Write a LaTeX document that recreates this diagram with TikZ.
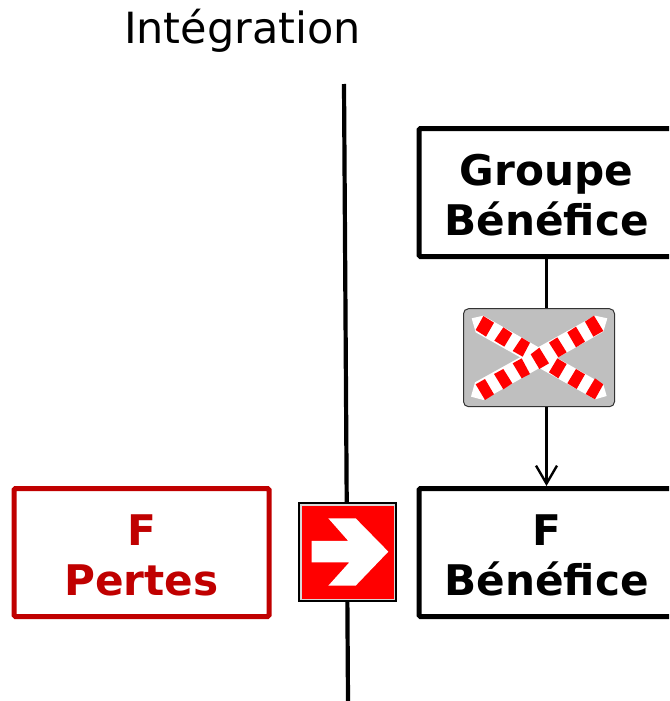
\documentclass[tikz,border=0pt]{standalone}
\usepackage{fontspec}
\setmainfont{DejaVu Sans}
\usetikzlibrary{arrows.meta}
\definecolor{dred}{HTML}{C00000}
\definecolor{sred}{HTML}{FF0000}
\definecolor{sgray}{HTML}{BFBFBF}
\newcommand{\toplift}{\rule{0pt}{37pt}}
\tikzset{
 flowbox/.style={draw=black,line width=5pt,fill=white,rounded corners=1.5pt,minimum width=255pt,minimum height=128pt,inner sep=0pt,align=center,font=\fontsize{42.2}{50}\selectfont\bfseries,text=black},
 lossbox/.style={flowbox,draw=dred,text=dred},
 link/.style={draw=black,line width=2.6pt},
 axis/.style={draw=black,line width=4.2pt},
 band/.style={fill=white},
 stripe/.style={fill=sred},
}
\begin{document}
\begin{tikzpicture}[x=1pt,y=-1pt]
\useasboundingbox (0,0) rectangle (669,701);
\clip (0,0) rectangle (669,701);
\node[font=\fontsize{43}{50}\selectfont] (title) at (242.5,31) {Intégration};
\coordinate (axtop) at (344,84);
\coordinate (axbot) at (348,701);
\draw[axis] (axtop) -- (axbot);
\node[flowbox] (grp) at (546.5,192.5) {\toplift Groupe\\Bénéfice};
\node[flowbox] (fben) at (546.5,552.5) {\toplift F\\Bénéfice};
\node[lossbox] (fpert) at (141.5,552.5) {\toplift F\\Pertes};
\node[draw=black!80,line width=1pt,fill=sgray,rounded corners=5pt,minimum width=151pt,minimum height=98pt,inner sep=0pt] (cross) at (539,357.7) {};
\draw[link] (grp.south) -- (grp.south |- cross.north);
\draw[link,-{Straight Barb[length=18pt,width=21pt,line width=2.4pt]}] (cross.south -| fben.north) -- (fben.north);
\begin{scope}[shift={(450,295)},x=0.3333pt,y=-0.3333pt]
 \fill[band] (63,305) -- (75,262) -- (435,62) -- (472,70) -- (460,110) -- (100,315) -- cycle;
 \fill[stripe] (432,62) -- (460,108) -- (430,125) -- (405,80) -- cycle;
 \fill[stripe] (378,95) -- (405,140) -- (378,157) -- (352,112) -- cycle;
 \fill[stripe] (322,127) -- (350,172) -- (325,187) -- (297,143) -- cycle;
 \fill[stripe] (215,190) -- (240,237) -- (215,250) -- (188,205) -- cycle;
 \fill[stripe] (160,222) -- (187,265) -- (160,283) -- (132,237) -- cycle;
 \fill[stripe] (105,252) -- (132,298) -- (105,315) -- (77,268) -- cycle;
 \fill[band] (65,70) -- (100,62) -- (460,268) -- (470,303) -- (435,313) -- (77,112) -- cycle;
 \fill[stripe] (100,63) -- (132,83) -- (108,125) -- (77,105) -- cycle;
 \fill[stripe] (160,97) -- (187,115) -- (163,155) -- (133,137) -- cycle;
 \fill[stripe] (215,128) -- (240,143) -- (218,185) -- (188,168) -- cycle;
 \fill[stripe] (268,158) -- (297,205) -- (268,222) -- (242,178) -- cycle;
 \fill[stripe] (322,190) -- (350,207) -- (325,250) -- (297,232) -- cycle;
 \fill[stripe] (378,222) -- (405,238) -- (380,282) -- (352,265) -- cycle;
 \fill[stripe] (435,250) -- (460,268) -- (435,313) -- (407,297) -- cycle;
\end{scope}
\node[draw=black,line width=2pt,fill=black!15,minimum width=96.4pt,minimum height=97.4pt,inner sep=0pt] (dir) at (347.5,552) {};
\fill[sred] (301.7,505.7) rectangle (394,599);
\begin{scope}[shift={(285,460)},x=0.3333pt,y=-0.3333pt]
 \fill[white] (130,175) -- (212,175) -- (310,275) -- (212,377) -- (130,377) -- (193,307) -- (80,307) -- (80,243) -- (190,243) -- cycle;
\end{scope}
\end{tikzpicture}
\end{document}
